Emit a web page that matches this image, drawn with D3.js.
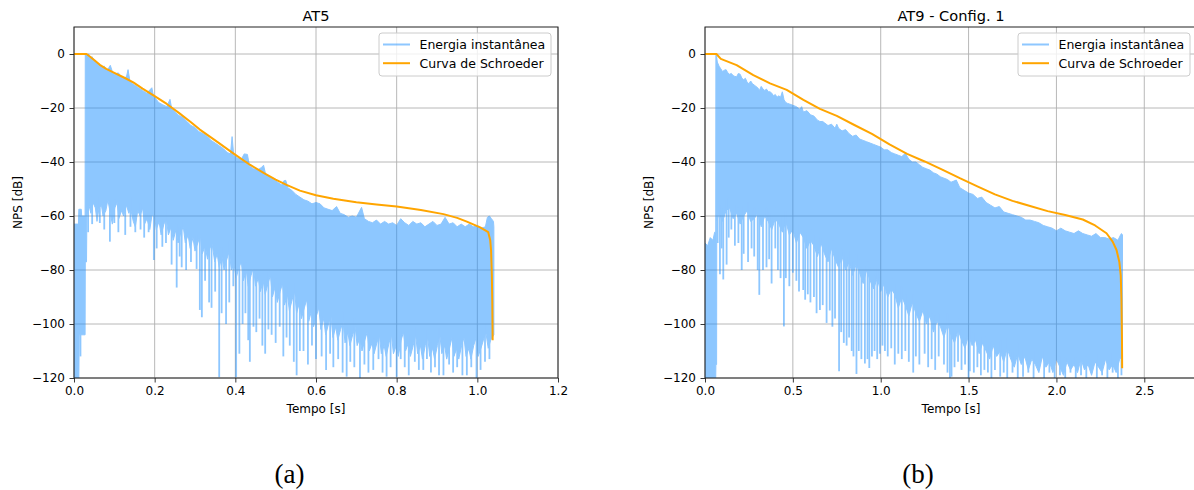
<!DOCTYPE html>
<html>
<head>
<meta charset="utf-8">
<script src="https://cdn.jsdelivr.net/npm/d3@7"></script>
<style>
  body { margin: 0; background: #fff; }
  svg { display: block; }
  text { font-family: "DejaVu Sans", sans-serif; fill: #000; }
</style>
</head>
<body>
<svg id="fig" width="1194" height="490"></svg>
<script>
// ---------- AT5 ----------
const ticksTimeA = [0, 0.2, 0.4, 0.6, 0.8, 1.0, 1.2];
// upper edge of the instantaneous energy trace [t (s), dB]
const energyTopA = [
  [0,-63],[0.011,-63],[0.012,-57.5],[0.018,-57.5],[0.019,-60],[0.0275,-60],[0.028,-0.3],[0.032,-0.5],
  [0.036,0],[0.04,-1.5],[0.045,-1],[0.05,-2.5],[0.055,-2.8],[0.06,-3.5],[0.065,-4],[0.07,-4.8],
  [0.075,-4.5],[0.08,-6],[0.085,-5.5],[0.09,-4.2],[0.095,-6.5],[0.1,-7.5],[0.11,-7],[0.12,-9],
  [0.13,-8.5],[0.134,-5.8],[0.138,-9.5],[0.145,-11],[0.15,-11.5],[0.16,-12.5],[0.17,-13.5],[0.18,-14.5],
  [0.19,-13],[0.193,-12.5],[0.197,-15.5],[0.205,-17],[0.21,-18],[0.22,-18.8],[0.23,-19.5],[0.238,-16.8],
  [0.242,-20],[0.25,-21.5],[0.26,-22.8],[0.27,-23.5],[0.28,-25],[0.29,-26.5],[0.3,-27.2],[0.31,-28.8],
  [0.32,-29.5],[0.33,-30.5],[0.34,-32],[0.35,-33],[0.36,-34],[0.37,-35],[0.38,-36.5],[0.388,-37],
  [0.392,-30.6],[0.396,-37.5],[0.405,-38.5],[0.415,-39],[0.422,-37],[0.43,-37.2],[0.435,-41.5],[0.445,-42.5],
  [0.455,-43],[0.465,-42],[0.47,-41.2],[0.475,-44.5],[0.485,-45.5],[0.495,-46.5],[0.505,-47.5],[0.515,-48.5],
  [0.52,-47],[0.525,-46.8],[0.53,-49.5],[0.54,-50.5],[0.55,-52],[0.56,-53],[0.57,-54],[0.58,-54.5],
  [0.59,-55.5],[0.6,-55],[0.61,-55.5],[0.62,-57],[0.63,-57.5],[0.64,-58],[0.651,-56.5],[0.66,-59],
  [0.67,-59.5],[0.68,-60.5],[0.69,-60],[0.7,-60.5],[0.713,-56.8],[0.72,-61],[0.73,-62],[0.74,-62.5],
  [0.75,-61.5],[0.76,-63],[0.77,-62],[0.78,-63],[0.79,-62.5],[0.8,-63.5],[0.81,-61],[0.82,-62.5],
  [0.83,-63.5],[0.84,-62],[0.85,-63],[0.86,-62.5],[0.87,-64],[0.88,-63],[0.89,-62],[0.9,-63.5],
  [0.91,-63],[0.92,-60.5],[0.93,-63],[0.94,-62.5],[0.95,-64],[0.96,-63],[0.97,-64],[0.98,-63],
  [0.99,-64],[1.0,-63.5],[1.01,-64.5],[1.02,-64],[1.025,-60.5],[1.03,-60],[1.035,-61],[1.04,-62],[1.041,-64]
];
// lower edge of the dense part of the trace
const energyBottomA = [
  [0,-120],[0.012,-120],[0.013,-104],[0.0275,-104],[0.028,-77],[0.031,-77],[0.032,-60],
  [0.037,-56],[0.042,-59],[0.047,-55],[0.053,-57],[0.057,-62],[0.062,-57],[0.068,-56],[0.072,-60],
  [0.079,-58],[0.084,-54],[0.09,-59],[0.095,-63],[0.101,-57],[0.107,-55],[0.111,-61],[0.118,-58],
  [0.123,-60],[0.13,-56],[0.136,-59],[0.14,-57],[0.147,-62],[0.152,-64],[0.158,-58],[0.164,-60],
  [0.17,-57],[0.175,-63],[0.181,-61],[0.188,-65],[0.193,-60],[0.199,-59],[0.204,-65],[0.211,-62],
  [0.216,-67],[0.223,-63],[0.229,-61],[0.234,-67],[0.241,-64],[0.246,-69],[0.253,-65],[0.258,-70],
  [0.265,-66],[0.271,-64],[0.276,-70],[0.283,-67],[0.288,-72],[0.295,-68],[0.3,-73],[0.307,-70],
  [0.313,-67],[0.318,-74],[0.325,-71],[0.331,-76],[0.337,-72],[0.342,-70],[0.349,-77],[0.355,-74],
  [0.36,-79],[0.367,-75],[0.372,-80],[0.379,-76],[0.385,-73],[0.39,-80],[0.397,-78],[0.402,-83],
  [0.409,-79],[0.415,-77],[0.42,-84],[0.427,-80],[0.432,-86],[0.439,-82],[0.445,-79],[0.45,-86],
  [0.457,-83],[0.462,-88],[0.469,-84],[0.474,-89],[0.481,-85],[0.487,-82],[0.492,-90],[0.499,-86],
  [0.504,-92],[0.511,-88],[0.517,-85],[0.522,-93],[0.529,-89],[0.534,-95],[0.541,-91],[0.547,-88],
  [0.552,-96],[0.559,-92],[0.564,-98],[0.571,-94],[0.577,-91],[0.582,-99],[0.589,-95],[0.594,-101],
  [0.601,-97],[0.607,-94],[0.612,-102],[0.619,-98],[0.624,-104],[0.631,-100],[0.637,-97],[0.642,-105],
  [0.649,-101],[0.654,-106],[0.661,-102],[0.667,-99],[0.672,-107],[0.679,-103],[0.684,-108],[0.691,-104],
  [0.697,-101],[0.702,-108],[0.709,-105],[0.714,-110],[0.721,-106],[0.727,-103],[0.732,-110],[0.739,-107],
  [0.744,-111],[0.751,-107],[0.757,-104],[0.762,-111],[0.769,-108],[0.774,-112],[0.781,-107],[0.787,-104],
  [0.792,-111],[0.799,-108],[0.804,-112],[0.811,-106],[0.817,-103],[0.822,-110],[0.829,-107],[0.834,-112],
  [0.841,-108],[0.847,-104],[0.852,-111],[0.859,-108],[0.864,-113],[0.871,-108],[0.877,-105],[0.882,-112],
  [0.889,-109],[0.894,-113],[0.901,-108],[0.907,-104],[0.912,-111],[0.919,-108],[0.924,-113],[0.931,-109],
  [0.937,-105],[0.942,-112],[0.949,-109],[0.954,-113],[0.961,-108],[0.967,-105],[0.972,-112],[0.979,-109],
  [0.984,-113],[0.991,-108],[0.997,-105],[1.002,-112],[1.009,-109],[1.015,-106],[1.021,-103],[1.027,-109],
  [1.033,-106],[1.041,-104]
];
// deep dips of the trace below its dense part [t, dB]
const energyDipsA = [
  [0.016,-112],[0.035,-66],[0.045,-63],[0.064,-62.6],[0.075,-65],[0.089,-69.5],[0.1,-62.6],[0.11,-66],
  [0.127,-67],[0.14,-64],[0.152,-66],[0.165,-65],[0.174,-68],[0.185,-66],[0.198,-76.3],[0.205,-72],
  [0.219,-71.4],[0.228,-70],[0.242,-78],[0.2546,-86.5],[0.262,-75],[0.267,-79],[0.278,-80],[0.29,-77],
  [0.304,-79.6],[0.312,-94.8],[0.317,-97.5],[0.325,-84],[0.335,-92],[0.341,-94],[0.35,-88],[0.36,-119.7],
  [0.366,-96],[0.377,-100],[0.385,-92],[0.395,-86],[0.402,-119.7],[0.41,-111],[0.418,-100],[0.425,-96],
  [0.432,-106],[0.436,-114],[0.445,-101],[0.452,-103],[0.46,-98],[0.467,-108],[0.474,-111],[0.482,-102],
  [0.49,-104],[0.5,-107],[0.51,-101],[0.519,-112],[0.527,-105],[0.535,-108],[0.545,-114],[0.552,-119],
  [0.56,-110],[0.569,-110],[0.58,-115],[0.59,-108],[0.6,-113],[0.614,-112],[0.625,-117],[0.635,-111],
  [0.643,-116],[0.655,-113],[0.666,-118],[0.676,-119.5],[0.685,-114],[0.695,-116],[0.709,-120],[0.72,-115],
  [0.73,-118],[0.742,-117],[0.755,-113],[0.765,-118],[0.775,-119.5],[0.785,-116],[0.8,-119.6],[0.81,-113],
  [0.82,-116],[0.83,-119],[0.845,-114],[0.855,-117],[0.866,-117],[0.875,-113],[0.885,-118],[0.895,-116],
  [0.905,-119],[0.916,-119],[0.93,-115],[0.94,-118],[0.95,-116],[0.963,-119],[0.974,-119],[0.985,-116],
  [0.998,-120],[1.008,-117],[1.019,-114],[1.03,-113]
];
// Schroeder backward-integrated decay [t, dB]
const schroederA = [
  [0,0],[0.031,0],[0.04,-1],[0.05,-2.2],[0.064,-4],[0.08,-5.5],[0.1,-7],[0.125,-8.8],[0.147,-10.5],
  [0.17,-12.8],[0.2,-15.6],[0.23,-18.5],[0.26,-21.8],[0.29,-25.3],[0.312,-28],[0.35,-32],[0.395,-36.8],
  [0.436,-41],[0.47,-44],[0.5,-46.5],[0.527,-48.5],[0.56,-50.6],[0.6,-52.3],[0.643,-53.6],[0.7,-54.9],
  [0.75,-55.7],[0.8,-56.5],[0.86,-57.8],[0.916,-59.3],[0.95,-60.7],[0.974,-62.1],[1.007,-64.2],
  [1.027,-66],[1.032,-69],[1.034,-72.6],[1.036,-82],[1.037,-91],[1.038,-106]
];

// ---------- AT9 - Config. 1 ----------
const ticksTimeB = [0, 0.5, 1.0, 1.5, 2.0, 2.5];
const energyTopB = [
  [0,-70],[0.015,-71],[0.03,-68],[0.045,-69],[0.055,-66],[0.061,-66],[0.062,-0.5],[0.066,-1],[0.07,-3],
  [0.08,-4.5],[0.09,-5.5],[0.1,-6.5],[0.11,-6],[0.12,-5.8],[0.13,-7],[0.14,-7.5],[0.15,-7.2],[0.16,-8],
  [0.17,-8.3],[0.18,-8.4],[0.19,-7.2],[0.2,-7.5],[0.21,-9],[0.22,-9.5],[0.23,-9],[0.24,-10.5],[0.25,-11],
  [0.26,-10],[0.27,-11],[0.28,-11.5],[0.29,-12],[0.3,-12.5],[0.31,-13.5],[0.32,-12],[0.33,-13],[0.34,-13.5],
  [0.35,-13],[0.36,-14],[0.37,-14],[0.38,-14.5],[0.39,-15.5],[0.4,-15],[0.41,-16],[0.42,-15.5],[0.43,-16],
  [0.44,-14],[0.45,-17],[0.46,-18],[0.47,-18.3],[0.48,-18.5],[0.5,-19],[0.52,-19.5],[0.54,-20.5],[0.55,-19.5],
  [0.56,-21.5],[0.58,-21],[0.6,-22.5],[0.62,-23],[0.64,-24.5],[0.654,-25],[0.67,-25],[0.68,-25.5],[0.7,-26.5],
  [0.72,-26],[0.74,-27.5],[0.75,-26],[0.76,-27.5],[0.78,-28.5],[0.8,-28],[0.82,-29.5],[0.84,-30.5],[0.86,-30],
  [0.88,-31.5],[0.9,-32],[0.92,-32.5],[0.94,-33],[0.96,-33.5],[0.98,-34],[1.0,-34.5],[1.02,-35.5],[1.04,-35.5],
  [1.06,-36.5],[1.08,-37],[1.1,-37.5],[1.12,-38],[1.14,-36.8],[1.16,-39],[1.18,-40],[1.2,-40],[1.22,-41],
  [1.24,-42],[1.26,-42.5],[1.28,-43],[1.3,-44],[1.32,-44.5],[1.34,-45.5],[1.36,-46],[1.38,-46.5],[1.4,-47.5],
  [1.43,-46.7],[1.45,-49.5],[1.475,-50.5],[1.5,-51.5],[1.525,-52],[1.55,-53.5],[1.575,-53],[1.6,-55],
  [1.625,-56],[1.65,-57],[1.675,-56.5],[1.7,-58.5],[1.725,-59],[1.75,-59.5],[1.775,-60],[1.8,-60.5],
  [1.825,-61.5],[1.85,-61.5],[1.875,-62],[1.9,-62.5],[1.925,-63.5],[1.95,-64],[1.975,-64.5],[2.0,-65.5],
  [2.025,-64.5],[2.05,-65.5],[2.075,-66],[2.1,-66.5],[2.125,-65.5],[2.15,-66.5],[2.175,-67],[2.2,-67.5],
  [2.225,-66.5],[2.25,-68],[2.275,-68],[2.3,-68.5],[2.325,-68],[2.35,-69],[2.365,-67],[2.37,-66.5],[2.376,-67]
];
const energyBottomB = [
  [0,-120],[0.061,-120],[0.062,-115],[0.066,-115],[0.067,-62],[0.08,-59],[0.1,-62],[0.12,-58],[0.14,-57],
  [0.16,-61],[0.18,-59],[0.2,-63],[0.22,-60],[0.24,-58],[0.26,-62],[0.28,-61],[0.3,-59],[0.32,-64],
  [0.34,-60],[0.36,-62],[0.38,-65],[0.4,-61],[0.42,-63],[0.44,-66],[0.46,-62],[0.48,-67],[0.5,-65],
  [0.52,-70],[0.54,-66],[0.56,-68],[0.58,-72],[0.6,-69],[0.62,-71],[0.64,-75],[0.66,-70],[0.68,-74],
  [0.7,-77],[0.72,-72],[0.74,-76],[0.76,-79],[0.78,-75],[0.8,-80],[0.82,-77],[0.84,-82],[0.86,-78],
  [0.88,-81],[0.9,-85],[0.92,-80],[0.94,-84],[0.96,-87],[0.98,-83],[1.0,-88],[1.02,-85],[1.04,-90],
  [1.06,-87],[1.08,-89],[1.1,-94],[1.12,-90],[1.14,-93],[1.16,-97],[1.18,-92],[1.2,-96],[1.22,-99],
  [1.24,-95],[1.26,-100],[1.28,-97],[1.3,-103],[1.32,-99],[1.34,-101],[1.36,-105],[1.38,-100],[1.4,-104],
  [1.42,-107],[1.44,-102],[1.46,-106],[1.48,-109],[1.5,-104],[1.52,-108],[1.54,-106],[1.56,-111],
  [1.58,-107],[1.6,-110],[1.62,-113],[1.64,-108],[1.66,-112],[1.68,-110],[1.7,-114],[1.72,-109],
  [1.74,-113],[1.76,-116],[1.78,-111],[1.8,-115],[1.82,-112],[1.84,-117],[1.86,-113],[1.88,-115],
  [1.9,-118],[1.92,-112],[1.94,-116],[1.96,-114],[1.98,-118],[2.0,-113],[2.02,-116],[2.04,-119],
  [2.06,-114],[2.08,-117],[2.1,-115],[2.12,-118],[2.14,-113],[2.16,-117],[2.18,-115],[2.2,-119],
  [2.22,-114],[2.24,-116],[2.26,-118],[2.28,-113],[2.3,-117],[2.32,-115],[2.34,-118],[2.36,-113],[2.376,-112]
];
const energyDipsB = [
  [0.02,-118],[0.072,-70],[0.085,-81.6],[0.095,-72],[0.104,-83.5],[0.123,-78],[0.135,-68],[0.15,-65],
  [0.17,-71],[0.19,-70],[0.209,-80],[0.22,-74],[0.245,-77],[0.265,-72],[0.28,-75],[0.3,-80],[0.309,-89.2],
  [0.33,-80],[0.35,-79],[0.365,-76],[0.379,-85],[0.4,-72],[0.415,-80],[0.43,-83],[0.449,-100.9],[0.46,-83],
  [0.48,-86],[0.5,-81],[0.52,-84],[0.535,-88],[0.559,-87.4],[0.57,-91],[0.585,-89],[0.6,-92],[0.62,-90],
  [0.635,-96],[0.654,-94.8],[0.67,-93],[0.692,-99.6],[0.71,-95],[0.725,-101],[0.74,-98],[0.763,-117.5],
  [0.775,-103],[0.79,-107],[0.806,-108],[0.82,-105],[0.835,-110],[0.845,-112],[0.862,-118.5],[0.875,-110],
  [0.89,-113],[0.91,-114.6],[0.925,-113],[0.935,-116.3],[0.95,-112],[0.965,-110],[0.98,-113],[0.995,-111],
  [1.01,-108],[1.024,-110],[1.04,-112],[1.06,-109],[1.08,-115],[1.1,-111],[1.12,-113],[1.14,-110],
  [1.16,-114],[1.185,-118],[1.2,-112],[1.22,-115],[1.25,-111],[1.27,-116],[1.29,-113],[1.31,-117],
  [1.33,-112],[1.36,-115],[1.38,-118],[1.394,-120],[1.403,-119.5],[1.42,-116],[1.44,-114],[1.46,-117],
  [1.48,-115],[1.5,-120],[1.507,-117.5],[1.53,-118],[1.55,-116],[1.57,-119],[1.59,-117],[1.61,-118],
  [1.63,-120],[1.65,-117],[1.68,-119.5],[1.7,-118],[1.72,-120],[1.75,-118],[1.78,-120],[1.81,-119.5],
  [1.84,-118],[1.87,-120],[1.9,-117],[1.93,-120],[1.96,-118],[1.99,-120],[2.02,-119],[2.05,-120],
  [2.08,-118],[2.11,-120],[2.14,-119],[2.17,-120],[2.2,-118],[2.23,-120],[2.26,-119],[2.29,-120],
  [2.32,-118],[2.35,-120],[2.37,-119]
];
const schroederB = [
  [0,0],[0.065,0],[0.09,-1.8],[0.18,-4.1],[0.275,-7.8],[0.37,-10.9],[0.465,-13.3],[0.56,-17],[0.654,-20.3],
  [0.75,-22.9],[0.85,-26.3],[0.95,-29.6],[1.05,-33.5],[1.15,-37],[1.25,-39.8],[1.35,-42.8],[1.45,-46],
  [1.55,-49],[1.65,-52],[1.75,-54.4],[1.85,-56.3],[1.95,-58.2],[2.05,-59.6],[2.15,-61.3],[2.22,-63.5],
  [2.285,-66.4],[2.32,-69.5],[2.342,-72.6],[2.358,-77],[2.366,-82],[2.37,-91],[2.373,-105],[2.374,-116.4]
];

// shared
const ticksLevel = [0, -20, -40, -60, -80, -100, -120];
const levelDomain = [-120, 10];
const legendLabels = ["Energia instantânea", "Curva de Schroeder"];

const ENERGY = "#1e90ff", SCHROEDER = "#ffa500", GRID = "#b0b0b0";
const fig = d3.select("#fig");

function panel(o) {
  const top = 27, bottom = 378;
  const x = d3.scaleLinear().domain(o.xDomain).range([o.left, o.right]);
  const y = d3.scaleLinear().domain(levelDomain).range([bottom, top]);
  const g = fig.append("g");

  g.append("clipPath").attr("id", o.id).append("rect")
    .attr("x", o.left).attr("y", top).attr("width", o.right - o.left).attr("height", bottom - top);

  // grid
  g.append("g").selectAll("line").data(o.xTicks).join("line")
    .attr("x1", d => x(d)).attr("x2", d => x(d)).attr("y1", top).attr("y2", bottom)
    .attr("stroke", GRID).attr("stroke-width", 0.9);
  g.append("g").selectAll("line").data(ticksLevel).join("line")
    .attr("x1", o.left).attr("x2", o.right).attr("y1", d => y(d)).attr("y2", d => y(d))
    .attr("stroke", GRID).attr("stroke-width", 0.9);

  // instantaneous energy (semi-transparent, drawn as one flattened layer)
  const line = d3.line().x(d => x(d[0])).y(d => y(d[1]));
  const e = g.append("g").attr("clip-path", `url(#${o.id})`).attr("opacity", 0.5);
  const outline = o.top.concat(o.bottom.slice().reverse());
  e.append("path").attr("d", line(outline) + "Z")
    .attr("fill", ENERGY).attr("stroke", ENERGY).attr("stroke-width", 1).attr("stroke-linejoin", "round");
  const bottomAt = d3.scaleLinear().domain(o.bottom.map(d => d[0])).range(o.bottom.map(d => d[1]));
  e.selectAll("line").data(o.dips).join("line")
    .attr("x1", d => x(d[0])).attr("x2", d => x(d[0]))
    .attr("y1", d => y(bottomAt(d[0]) + 4)).attr("y2", d => y(d[1]))
    .attr("stroke", ENERGY).attr("stroke-width", 1.8);

  // Schroeder curve
  g.append("path").attr("clip-path", `url(#${o.id})`).attr("d", line(o.schroeder))
    .attr("fill", "none").attr("stroke", SCHROEDER).attr("stroke-width", 2).attr("stroke-linejoin", "round");

  // axes
  const ax = g.append("g").attr("transform", `translate(0,${bottom})`)
    .call(d3.axisBottom(x).tickValues(o.xTicks).tickFormat(d3.format(".1f")).tickSize(4.5).tickPadding(4).tickSizeOuter(0));
  const ay = g.append("g").attr("transform", `translate(${o.left},0)`)
    .call(d3.axisLeft(y).tickValues(ticksLevel).tickFormat(d3.format("d")).tickSize(4.5).tickPadding(4.5).tickSizeOuter(0));
  [ax, ay].forEach(a => {
    a.select(".domain").remove();
    a.selectAll(".tick line").attr("stroke", "#222").attr("stroke-width", 0.9);
    a.selectAll(".tick text").attr("font-family", "DejaVu Sans").attr("font-size", 12).attr("fill", "#111");
  });

  // spines
  g.append("rect").attr("x", o.left).attr("y", top).attr("width", o.right - o.left).attr("height", bottom - top)
    .attr("fill", "none").attr("stroke", "#222").attr("stroke-width", 1);

  // labels
  g.append("text").attr("x", (o.left + o.right) / 2).attr("y", 20.5).attr("text-anchor", "middle")
    .attr("font-size", 14.6).text(o.title);
  g.append("text").attr("x", (o.left + o.right) / 2).attr("y", 413).attr("text-anchor", "middle")
    .attr("font-size", 12).text("Tempo [s]");
  g.append("text").attr("transform", `translate(${o.left - 52.5},${(top + bottom) / 2}) rotate(-90)`)
    .attr("text-anchor", "middle").attr("font-size", 12).text("NPS [dB]");

  // legend
  const lw = 172, lh = 43, lx = o.right - 7 - lw, ly = top + 6;
  const lg = g.append("g").attr("transform", `translate(${lx},${ly})`);
  lg.append("rect").attr("width", lw).attr("height", lh).attr("rx", 3)
    .attr("fill", "#fff").attr("fill-opacity", 0.8).attr("stroke", "#cccccc").attr("stroke-width", 1);
  const colours = [ENERGY, SCHROEDER], alphas = [0.5, 1];
  legendLabels.forEach((lab, i) => {
    const yy = 11.5 + i * 18.7;
    lg.append("line").attr("x1", 4).attr("x2", 31).attr("y1", yy).attr("y2", yy)
      .attr("stroke", colours[i]).attr("stroke-opacity", alphas[i]).attr("stroke-width", 2);
    lg.append("text").attr("x", 40.5).attr("y", yy + 4.5).attr("font-size", 12.5).text(lab);
  });

  // caption
  fig.append("text").attr("x", o.captionX).attr("y", 483).attr("text-anchor", "middle")
    .style("font-family", "'Liberation Serif', 'Times New Roman', serif").attr("font-size", 27).text(o.caption);
}

panel({ id: "clipA", left: 74, right: 558, xDomain: [0, 1.2], xTicks: ticksTimeA, title: "AT5",
  top: energyTopA, bottom: energyBottomA, dips: energyDipsA, schroeder: schroederA,
  caption: "(a)", captionX: 289.5 });
panel({ id: "clipB", left: 705, right: 1197, xDomain: [0, 2.8], xTicks: ticksTimeB, title: "AT9 - Config. 1",
  top: energyTopB, bottom: energyBottomB, dips: energyDipsB, schroeder: schroederB,
  caption: "(b)", captionX: 918 });
</script>
</body>
</html>
